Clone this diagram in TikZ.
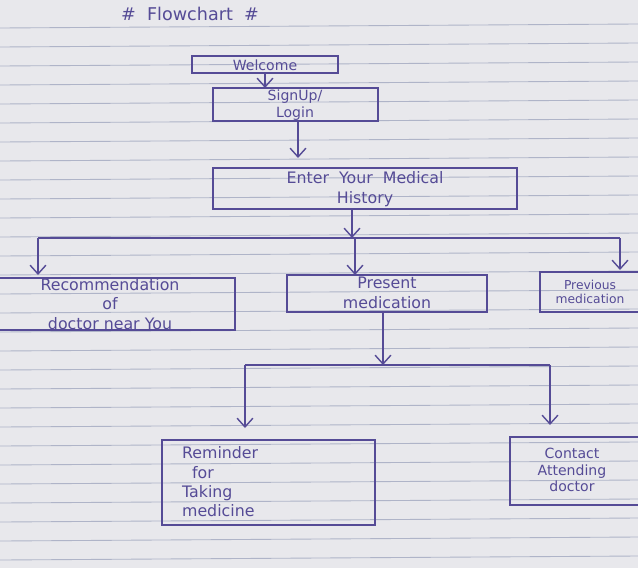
\documentclass[tikz,border=0pt]{standalone}
\usepackage{fontspec}
\setmainfont{DejaVu Sans}
\usetikzlibrary{arrows.meta}
\definecolor{ink}{RGB}{85,75,150}
\definecolor{paper}{RGB}{232,232,236}
\definecolor{rule}{RGB}{175,180,200}
\begin{document}
\begin{tikzpicture}[x=0.02cm,y=-0.02cm,
  txt/.style={text=ink,font=\small,align=center,inner sep=1pt},
  arr/.style={draw=ink,line width=0.8pt,-{Straight Barb[length=5pt,width=9pt]}},
  ln/.style={draw=ink,line width=0.8pt},
  bx/.style={draw=ink,line width=0.8pt}]
\fill[paper] (0,0) rectangle (638,568);
\useasboundingbox (0,0) rectangle (638,568);
\foreach \y in {28,47,66,85,104,123,142,161,180,199,218,237,256,275,294,313,332,351,370,389,408,427,446,465,484,503,522,541,560}
  \draw[rule,line width=0.5pt] (0,\y) -- (638,\y-4);
\node[txt,font=\normalsize] (title) at (190,14) {\#\ \ Flowchart\ \ \#};
\draw[bx] (192,56) rectangle (338,73);
\node[txt,font=\footnotesize] (wt) at (265,65) {Welcome};
\draw[bx] (213,88) rectangle (378,121);
\node[txt,font=\footnotesize] (st) at (295,105) {SignUp/\\Login};
\draw[bx] (213,168) rectangle (517,209);
\node[txt] (et) at (365,189) {Enter\ \ Your\ \ Medical\\History};
\coordinate (w1) at (265,73); \coordinate (s0) at (265,88);
\coordinate (s1) at (298,121); \coordinate (e0) at (298,158);
\draw[arr] (w1) -- (s0);
\draw[arr] (s1) -- (e0);
\coordinate (e1) at (352,209); \coordinate (j1) at (352,238);
\coordinate (l1) at (38,238); \coordinate (r1) at (620,238);
\coordinate (l2) at (38,275); \coordinate (m2) at (355,275); \coordinate (r2) at (620,270);
\draw[arr] (e1) -- (j1);
\draw[ln] (l1) -- (r1);
\draw[arr] (l1) -- (l2);
\draw[arr] (355,238) -- (m2);
\draw[arr] (r1) -- (r2);
\draw[bx] (-5,278) rectangle (235,330);
\node[txt] (lt) at (110,304) {Recommendation\\of\\doctor near You};
\draw[bx] (540,272) rectangle (660,312);
\node[txt,font=\scriptsize] (pt) at (590,292) {Previous\\medication};
\draw[bx] (510,437) rectangle (660,505);
\node[txt,font=\footnotesize] (ct) at (572,470) {Contact\\Attending\\doctor};
\draw[bx] (287,275) rectangle (487,312);
\node[txt] (mt) at (387,293) {Present\\medication};
\coordinate (m3) at (383,312); \coordinate (j2) at (383,365);
\coordinate (l3) at (245,365); \coordinate (r3) at (550,365);
\coordinate (l4) at (245,428); \coordinate (r4) at (550,425);
\draw[arr] (m3) -- (j2);
\draw[ln] (l3) -- (r3);
\draw[arr] (l3) -- (l4);
\draw[arr] (r3) -- (r4);
\draw[bx] (162,440) rectangle (375,525);
\node[txt,anchor=west,align=left] (rt) at (180,482) {Reminder\\\ \ for\\Taking\\medicine};
\end{tikzpicture}
\end{document}
